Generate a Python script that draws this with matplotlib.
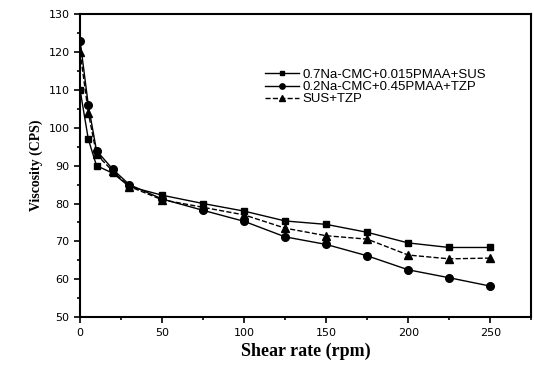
import matplotlib
matplotlib.use('Agg')
from matplotlib import pyplot as plt
from matplotlib.ticker import MultipleLocator

# shear rate (rpm) and viscosity (CPS)
shear = [0, 5, 10, 20, 30, 50, 75, 100, 125, 150, 175, 200, 225, 250]
visc_sus = [110, 97, 90, 88, 84.5, 82.2, 80, 78, 75.4, 74.5, 72.4, 69.6, 68.4, 68.4]
visc_tzp = [123, 106, 94, 89, 85, 81.2, 78.2, 75.3, 71.2, 69.2, 66.2, 62.5, 60.4, 58.2]
visc_mix = [120, 104, 93, 88.5, 84.5, 81, 79, 77, 73.5, 71.5, 70.6, 66.4, 65.4, 65.6]
labels = ['0.7Na-CMC+0.015PMAA+SUS', '0.2Na-CMC+0.45PMAA+TZP', 'SUS+TZP']

fig = plt.figure(figsize=(5.34, 3.74), dpi=100)
ax = fig.add_axes([0.150, 0.152, 0.845, 0.810])

ax.plot(shear, visc_sus, 'k-', marker='s', ms=5, lw=1.0, label=labels[0])
ax.plot(shear, visc_tzp, 'k-', marker='o', ms=5.5, lw=1.0, label=labels[1])
ax.plot(shear, visc_mix, 'k--', marker='^', ms=5.5, lw=1.0, label=labels[2])

ax.set_xlim(0, 275)
ax.set_ylim(50, 130)
ax.xaxis.set_major_locator(MultipleLocator(50))
ax.xaxis.set_minor_locator(MultipleLocator(25))
ax.yaxis.set_major_locator(MultipleLocator(10))
ax.yaxis.set_minor_locator(MultipleLocator(5))
ax.tick_params(which='both', direction='out', labelsize=8, width=1.2)
ax.tick_params(which='major', length=4)
ax.tick_params(which='minor', length=2.5)
for s in ax.spines.values():
    s.set_linewidth(1.5)

ax.set_xlabel('Shear rate (rpm)', family='Liberation Serif', fontweight='bold', fontsize=13)
ax.set_ylabel('Viscosity (CPS)', family='Liberation Serif', fontweight='bold', fontsize=10)

ax.legend(loc='upper left', bbox_to_anchor=(0.41, 0.82), frameon=False,
          handlelength=2.6, handletextpad=0.2, labelspacing=0.0, markerscale=0.7,
          borderaxespad=0, borderpad=0,
          prop={'family': 'Liberation Sans', 'size': 9.5})

plt.savefig('out.png', dpi=100)
